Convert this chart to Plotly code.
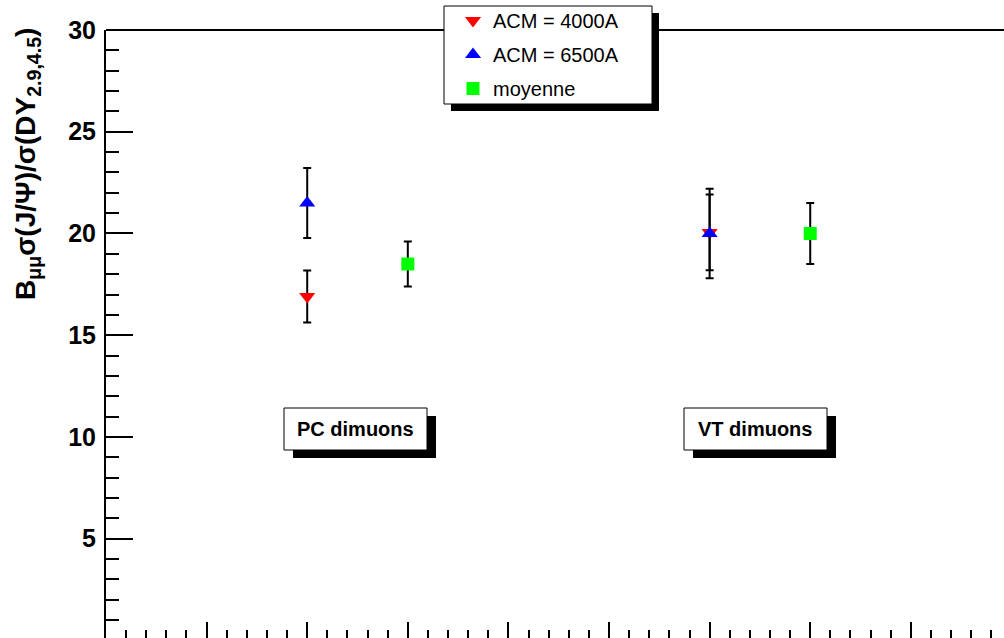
import plotly.graph_objects as go

# ---- data ----
series_names = ["ACM = 4000A", "ACM = 6500A", "moyenne"]
x_acm = [2, 6]
y_acm4000 = [16.9, 20.05]
e_acm4000 = [1.28, 1.86]
y_acm6500 = [21.5, 20.0]
e_acm6500 = [1.72, 2.2]
x_moy = [3, 7]
y_moy = [18.5, 20.0]
e_moy = [1.11, 1.5]
y_tickvals = [5, 10, 15, 20, 25, 30]
box_labels = ["PC dimuons", "VT dimuons"]

W, H = 1004, 638
ML, MR, MT, MB = 106, 0, 30, 0
FONT = "Liberation Sans"


def px(xp):
    return (xp - ML) / (W - ML - MR)


def py(yp):
    return (H - MB - yp) / (H - MT - MB)


fig = go.Figure()

styles = [
    (x_acm, y_acm4000, e_acm4000, "triangle-down", "#ff0000", 14),
    (x_acm, y_acm6500, e_acm6500, "triangle-up", "#0000ff", 14),
    (x_moy, y_moy, e_moy, "square", "#00ff00", 13),
]
for i, (xs, ys, es, sym, col, sz) in enumerate(styles):
    fig.add_trace(go.Scatter(
        x=xs, y=ys, mode="markers", name=series_names[i],
        legendgroup=f"g{i}",
        marker=dict(symbol=sym, color=col, size=sz, line=dict(width=0)),
        error_y=dict(type="data", array=es, visible=True, color="black",
                     thickness=2, width=4),
    ))

shapes = []
# top frame line
shapes.append(dict(type="line", xref="paper", yref="paper", x0=0, x1=1, y0=1, y1=1,
                   line=dict(color="black", width=2), layer="above"))


def shadow_box(x0, y0, x1, y1, dx, dy):
    shapes.append(dict(type="rect", xref="paper", yref="paper",
                       x0=px(x0 + dx), x1=px(x1 + dx), y0=py(y0 + dy), y1=py(y1 + dy),
                       fillcolor="black", line=dict(width=0), layer="above"))
    shapes.append(dict(type="rect", xref="paper", yref="paper",
                       x0=px(x0), x1=px(x1), y0=py(y0), y1=py(y1),
                       fillcolor="white", line=dict(color="black", width=1), layer="above"))


# legend box
shadow_box(444, 6, 652, 104, 7, 7)
# text boxes
shadow_box(284, 408, 427, 450, 9, 8)
shadow_box(684, 408, 827, 450, 9, 8)

annotations = [
    dict(text=box_labels[0], xref="paper", yref="paper", x=px(355), y=py(429),
         xanchor="center", yanchor="middle",
         showarrow=False, font=dict(family=FONT, size=20, color="black", weight="bold")),
    dict(text=box_labels[1], xref="paper", yref="paper", x=px(755), y=py(429),
         xanchor="center", yanchor="middle",
         showarrow=False, font=dict(family=FONT, size=20, color="black", weight="bold")),
    dict(text="B<sub>μμ</sub>σ(J/Ψ)/σ(DY<sub>2.9,4.5</sub>)", xref="paper", yref="paper",
         x=px(27), y=py(26), xanchor="center", yanchor="top", textangle=-90,
         showarrow=False, font=dict(family=FONT, size=28, color="black", weight="bold")),
]

fig.update_layout(
    width=W, height=H,
    margin=dict(l=ML, r=MR, t=MT, b=MB, pad=0, autoexpand=False),
    paper_bgcolor="white", plot_bgcolor="white",
    font=dict(family=FONT, color="black"),
    showlegend=True,
    legend=dict(x=px(453), y=py(1), xanchor="left", yanchor="top",
                bgcolor="rgba(0,0,0,0)", borderwidth=0,
                font=dict(family=FONT, size=20, color="black"),
                traceorder="grouped", tracegroupgap=5),
    shapes=shapes,
    annotations=annotations,
    xaxis=dict(range=[0, 8.926], showgrid=False, zeroline=False, showline=False,
               showticklabels=False, ticks="inside", tickmode="linear", tick0=0, dtick=1,
               ticklen=16, tickwidth=2, tickcolor="black",
               minor=dict(ticks="inside", dtick=0.2, ticklen=8, tickwidth=2, tickcolor="black")),
    yaxis=dict(range=[0.12, 30], showgrid=False, zeroline=False, showline=True,
               linecolor="black", linewidth=2, automargin=False,
               tickmode="array", tickvals=y_tickvals, ticks="inside",
               ticklen=27, tickwidth=2, tickcolor="black", ticklabelstandoff=3,
               tickfont=dict(family=FONT, size=25, color="black", weight="bold"),
               minor=dict(ticks="inside", dtick=1, ticklen=13, tickwidth=2, tickcolor="black")),
)

fig.write_html("out.html", config={"displayModeBar": False},
               post_script="document.body.style.margin='0';document.body.style.overflow='hidden';")
